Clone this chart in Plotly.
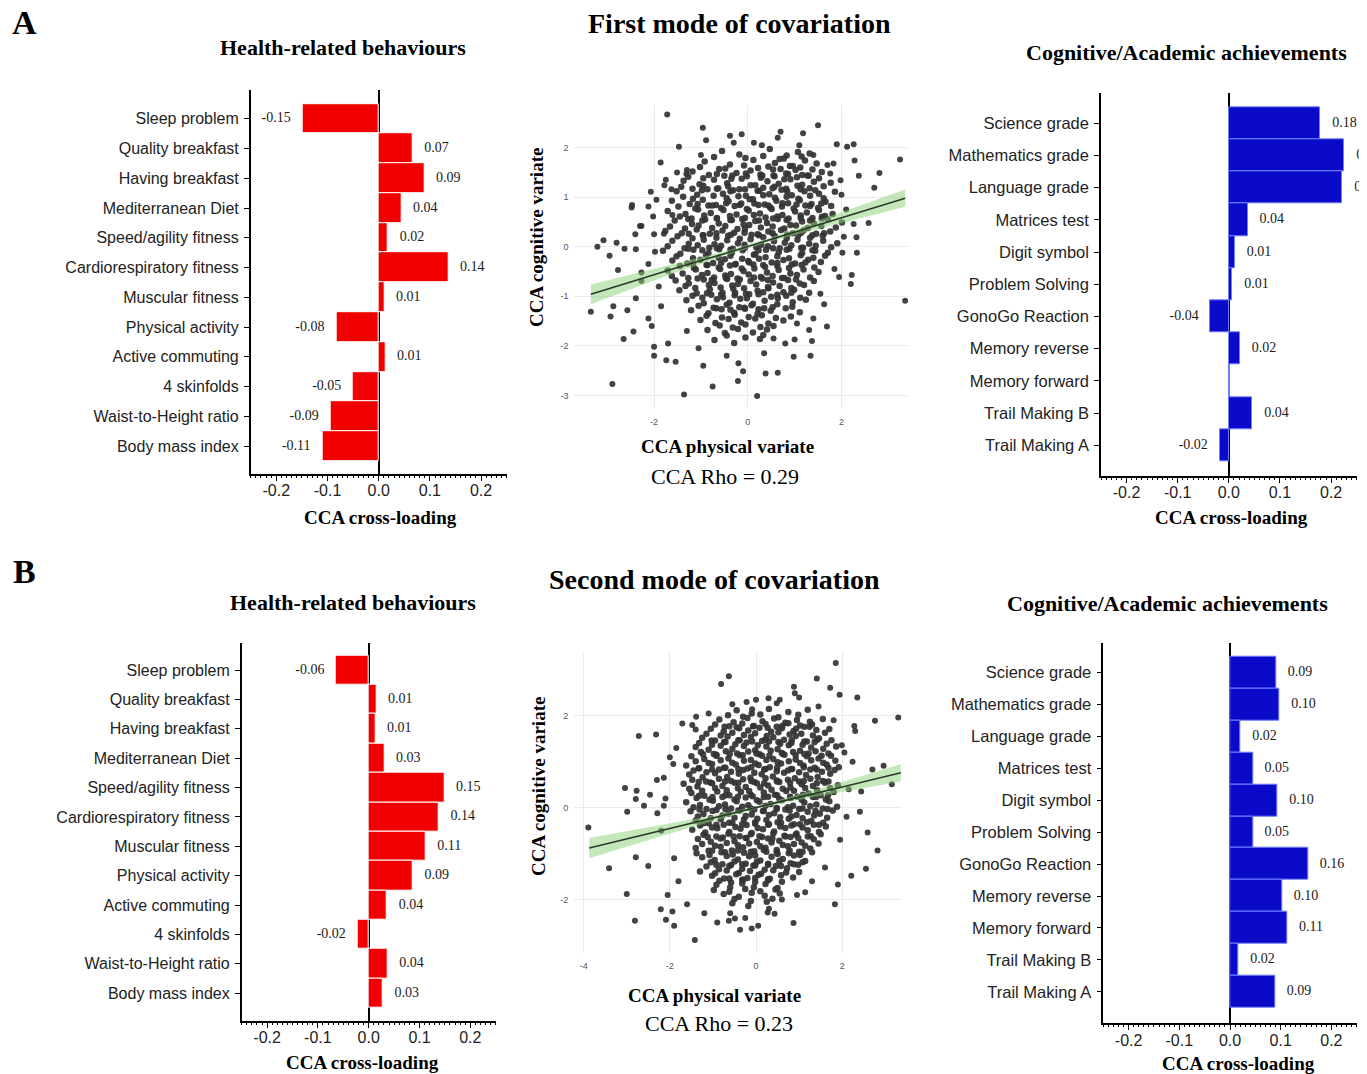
import plotly.graph_objects as go

W, H = 1367, 1074          # reference picture size
PAD = 8                    # browser body margin
WF, HF = W - PAD, H - PAD  # figure size
SERIF = "Liberation Serif"
SANS = "Liberation Sans"

# ---------------- bar data ----------------
health_labels = ["Sleep problem", "Quality breakfast", "Having breakfast", "Mediterranean Diet",
                 "Speed/agility fitness", "Cardiorespiratory fitness", "Muscular fitness",
                 "Physical activity", "Active commuting", "4 skinfolds", "Waist-to-Height ratio",
                 "Body mass index"]
health_a_values = [-0.149, 0.066, 0.089, 0.044, 0.018, 0.136, 0.011, -0.083, 0.013, -0.050, -0.094, -0.110]
health_a_text = ["-0.15", "0.07", "0.09", "0.04", "0.02", "0.14", "0.01", "-0.08", "0.01", "-0.05", "-0.09", "-0.11"]
health_b_values = [-0.064, 0.015, 0.013, 0.031, 0.149, 0.138, 0.112, 0.087, 0.036, -0.022, 0.037, 0.028]
health_b_text = ["-0.06", "0.01", "0.01", "0.03", "0.15", "0.14", "0.11", "0.09", "0.04", "-0.02", "0.04", "0.03"]

cog_labels = ["Science grade", "Mathematics grade", "Language grade", "Matrices test", "Digit symbol",
              "Problem Solving", "GonoGo Reaction", "Memory reverse", "Memory forward",
              "Trail Making B", "Trail Making A"]
cog_a_values = [0.179, 0.226, 0.222, 0.037, 0.012, 0.007, -0.036, 0.022, 0.002, 0.046, -0.018]
cog_a_text = ["0.18", "0.23", "0.22", "0.04", "0.01", "0.01", "-0.04", "0.02", "", "0.04", "-0.02"]
cog_b_values = [0.091, 0.098, 0.021, 0.045, 0.094, 0.045, 0.154, 0.103, 0.113, 0.017, 0.089]
cog_b_text = ["0.09", "0.10", "0.02", "0.05", "0.10", "0.05", "0.16", "0.10", "0.11", "0.02", "0.09"]

bar_ticks = [-0.2, -0.1, 0.0, 0.1, 0.2]
bar_tick_text = ["-0.2", "-0.1", "0.0", "0.1", "0.2"]

# ---------------- scatter data ----------------
scatter_a_outer = [
    (-1.72, 2.67), (-0.96, 2.40), (-0.89, 2.15), (-1.47, 2.02), (-1.86, 1.70), (-0.38, 2.24), (-0.13, 2.27),
    (0.13, 2.10), (0.64, 2.20), (0.70, 2.32), (1.18, 2.29), (1.50, 2.45), (1.90, 2.07), (2.26, 2.07),
    (2.12, 2.02), (2.28, 1.74), (3.25, 1.76), (2.81, 1.49), (2.70, 1.19), (2.37, 1.43), (2.58, 0.48),
    (2.26, 0.46), (2.32, 0.19), (2.33, -0.12), (2.02, -0.12), (2.22, -0.57), (2.20, -0.75), (1.95, -0.61),
    (3.36, -1.09), (1.63, -1.16), (1.69, -1.61), (1.31, -1.68), (1.34, -2.20), (0.98, -2.22), (1.37, -1.90),
    (1.00, -1.87), (0.64, -2.54), (0.38, -2.56), (0.20, -3.01), (-0.21, -2.71), (-0.10, -2.51), (-0.75, -2.82),
    (-1.36, -2.98), (-1.54, -2.32), (-1.74, -2.29), (-2.00, -2.20), (-2.00, -2.02), (-2.65, -1.86),
    (-2.44, -1.71), (-2.89, -2.77), (-2.93, -1.41), (-3.35, -1.31), (-2.87, -1.20), (-2.57, -1.28),
    (-2.39, -1.04), (-2.12, -1.45), (-2.77, -0.47), (-2.95, -0.18), (-3.21, 0.00), (-3.08, 0.13),
    (-2.80, 0.08), (-2.63, -0.04), (-2.39, -0.05), (-2.40, 0.25), (-2.47, 0.84), (-2.48, 0.79),
    (-2.12, 0.81), (-2.07, 1.11), (-1.78, 1.24), (-1.63, 1.16), (-1.51, 1.50), (-1.31, 1.47), (-2.02, 0.61),
    (-2.27, 0.42), (-2.27, -0.52), (-2.27, -0.69), (-1.98, -0.10), (-1.61, 0.64), (-1.79, 0.26),
    (1.76, 1.48), (1.83, 1.68), (1.98, 1.34), (1.58, 0.61),
    (-2.3, 0.42), (-2.12, -0.35), (-1.95, 0.95), (-1.9, -0.8), (-1.85, -1.2), (-2.05, -1.6), (-1.7, -1.95),
    (-1.3, -1.7), (-1.05, -2.05), (-0.95, -2.4), (-0.45, -2.2), (-0.2, -2.35), (0.35, -2.15), (0.55, -1.85),
    (0.8, -1.95), (1.05, -1.55), (1.4, -1.45), (1.55, -0.95), (1.85, -0.45), (2.05, 0.2), (2.1, 0.75),
    (2.0, 1.05), (1.7, 1.65), (1.4, 1.85), (1.1, 2.05), (0.3, 2.05), (-0.3, 2.1), (-1.0, 1.85), (-1.3, 1.55),
    (-1.75, 1.35), (-2.0, 0.25),
]
scatter_a_core = [
    (-0.55, 1.93), (-0.18, 1.86), (0.47, 1.97), (0.83, 1.84), (1.07, 1.91), (1.32, 1.88),
    (-0.92, 1.72), (-0.38, 1.66), (0.12, 1.75), (0.58, 1.69), (0.77, 1.78), (0.96, 1.63), (1.22, 1.74), (1.47, 1.68),
    (-1.18, 1.52), (-0.83, 1.45), (-0.61, 1.57), (-0.24, 1.49), (0.06, 1.54), (0.31, 1.43), (0.54, 1.56),
    (0.82, 1.48), (1.02, 1.55), (1.27, 1.44), (1.58, 1.51),
    (-1.37, 1.33), (-1.03, 1.26), (-0.72, 1.35), (-0.44, 1.28), (-0.13, 1.37), (0.16, 1.24), (0.42, 1.32),
    (0.66, 1.27), (0.91, 1.36), (1.16, 1.25), (1.41, 1.31), (1.77, 1.29),
    (-1.52, 1.12), (-1.08, 1.05), (-0.86, 1.16), (-0.53, 1.07), (-0.31, 1.14), (-0.04, 1.03), (0.21, 1.13),
    (0.46, 1.06), (0.72, 1.15), (0.94, 1.04), (1.21, 1.12), (1.52, 1.07), (1.86, 1.11),
    (-1.62, 0.93), (-1.24, 0.86), (-0.96, 0.95), (-0.68, 0.84), (-0.41, 0.92), (-0.14, 0.87), (0.11, 0.96),
    (0.36, 0.85), (0.61, 0.93), (0.86, 0.88), (1.11, 0.94), (1.36, 0.86), (1.66, 0.91),
    (-1.71, 0.72), (-1.33, 0.66), (-1.06, 0.75), (-0.79, 0.68), (-0.52, 0.74), (-0.24, 0.65), (0.02, 0.73),
    (0.26, 0.67), (0.51, 0.76), (0.74, 0.64), (1.01, 0.71), (1.26, 0.69), (1.52, 0.74), (1.81, 0.66),
    (-1.56, 0.53), (-1.19, 0.46), (-0.91, 0.55), (-0.62, 0.47), (-0.34, 0.54), (-0.09, 0.45), (0.16, 0.52),
    (0.41, 0.48), (0.64, 0.56), (0.91, 0.44), (1.16, 0.51), (1.41, 0.47), (1.71, 0.55), (2.01, 0.49),
    (-1.76, 0.32), (-1.41, 0.27), (-1.09, 0.35), (-0.81, 0.26), (-0.54, 0.33), (-0.29, 0.28), (-0.06, 0.36),
    (0.21, 0.25), (0.44, 0.31), (0.71, 0.34), (0.96, 0.27), (1.19, 0.33), (1.46, 0.26), (1.76, 0.31),
    (-1.61, 0.12), (-1.26, 0.06), (-0.94, 0.14), (-0.71, 0.05), (-0.44, 0.13), (-0.21, 0.07), (0.06, 0.15),
    (0.29, 0.04), (0.56, 0.11), (0.79, 0.08), (1.06, 0.14), (1.31, 0.06), (1.61, 0.12), (1.91, 0.07),
    (-1.81, -0.08), (-1.44, -0.14), (-1.16, -0.06), (-0.84, -0.13), (-0.61, -0.05), (-0.34, -0.12),
    (-0.11, -0.07), (0.16, -0.15), (0.39, -0.06), (0.66, -0.11), (0.89, -0.04), (1.16, -0.13), (1.44, -0.08),
    (1.71, -0.12),
    (-1.61, -0.28), (-1.29, -0.34), (-1.01, -0.26), (-0.74, -0.33), (-0.49, -0.25), (-0.26, -0.35),
    (0.01, -0.29), (0.24, -0.24), (0.51, -0.32), (0.76, -0.27), (1.01, -0.34), (1.29, -0.26), (1.56, -0.31),
    (-1.71, -0.48), (-1.39, -0.54), (-1.11, -0.46), (-0.86, -0.53), (-0.59, -0.45), (-0.36, -0.55),
    (-0.09, -0.49), (0.14, -0.44), (0.41, -0.52), (0.66, -0.47), (0.91, -0.54), (1.19, -0.46), (1.51, -0.51),
    (-1.54, -0.68), (-1.26, -0.74), (-0.94, -0.66), (-0.71, -0.73), (-0.44, -0.65), (-0.21, -0.75),
    (0.06, -0.69), (0.31, -0.64), (0.54, -0.72), (0.86, -0.67), (1.11, -0.74), (1.41, -0.69),
    (-1.46, -0.88), (-1.09, -0.94), (-0.81, -0.86), (-0.54, -0.93), (-0.31, -0.85), (-0.04, -0.95),
    (0.21, -0.89), (0.44, -0.84), (0.76, -0.92), (0.99, -0.87), (1.31, -0.93),
    (-1.31, -1.08), (-0.94, -1.14), (-0.66, -1.06), (-0.39, -1.13), (-0.16, -1.05), (0.11, -1.15),
    (0.36, -1.09), (0.64, -1.04), (0.96, -1.12), (1.24, -1.07),
    (-1.21, -1.28), (-0.84, -1.34), (-0.56, -1.26), (-0.29, -1.33), (-0.06, -1.25), (0.21, -1.35),
    (0.49, -1.29), (0.81, -1.24), (1.11, -1.32),
    (-1.01, -1.48), (-0.69, -1.54), (-0.41, -1.46), (-0.14, -1.53), (0.16, -1.45), (0.44, -1.55), (0.76, -1.49),
    (-0.86, -1.68), (-0.49, -1.74), (-0.21, -1.66), (0.11, -1.73), (0.41, -1.67),
    (-0.71, -1.88), (-0.29, -1.94), (0.26, -1.86),
    (-0.72, 1.81), (-0.05, 1.79), (0.33, 1.83), (0.68, 1.77), (1.15, 1.82),
    (-1.02, 1.61), (-0.48, 1.58), (-0.08, 1.64), (0.22, 1.59), (0.44, 1.62), (0.70, 1.57), (0.90, 1.63),
    (1.12, 1.60), (1.38, 1.56),
    (-1.27, 1.41), (-0.95, 1.38), (-0.50, 1.43), (-0.35, 1.37), (-0.02, 1.42), (0.28, 1.39), (0.55, 1.44),
    (0.78, 1.36), (1.05, 1.40), (1.30, 1.43), (1.52, 1.38),
    (-1.42, 1.21), (-1.18, 1.17), (-0.95, 1.23), (-0.63, 1.18), (-0.42, 1.22), (-0.18, 1.16), (0.06, 1.24),
    (0.33, 1.19), (0.57, 1.21), (0.82, 1.17), (1.06, 1.23), (1.32, 1.18), (1.62, 1.22),
    (-1.38, 1.01), (-1.17, 0.97), (-0.73, 1.03), (-0.45, 0.98), (-0.20, 1.02), (0.04, 0.96), (0.33, 1.04),
    (0.58, 0.99), (0.83, 1.01), (1.08, 0.97), (1.33, 1.03), (1.62, 0.98),
    (-1.48, 0.81), (-1.12, 0.77), (-0.84, 0.83), (-0.57, 0.78), (-0.28, 0.82), (-0.02, 0.76), (0.23, 0.84),
    (0.48, 0.79), (0.73, 0.81), (0.98, 0.77), (1.23, 0.83), (1.50, 0.78), (1.78, 0.82),
    (-1.45, 0.61), (-1.20, 0.57), (-0.93, 0.63), (-0.66, 0.58), (-0.38, 0.62), (-0.12, 0.56), (0.13, 0.64),
    (0.38, 0.59), (0.63, 0.61), (0.87, 0.57), (1.13, 0.63), (1.38, 0.58), (1.65, 0.62),
    (-1.66, 0.41), (-1.34, 0.37), (-1.05, 0.43), (-0.76, 0.38), (-0.48, 0.42), (-0.22, 0.36), (0.03, 0.44),
    (0.28, 0.39), (0.53, 0.41), (0.78, 0.37), (1.03, 0.43), (1.28, 0.38), (1.57, 0.42), (1.88, 0.39),
    (-1.50, 0.21), (-1.18, 0.17), (-0.95, 0.23), (-0.67, 0.18), (-0.42, 0.22), (-0.17, 0.16), (0.08, 0.24),
    (0.33, 0.19), (0.58, 0.21), (0.83, 0.17), (1.08, 0.23), (1.33, 0.18), (1.60, 0.22),
    (-1.71, 0.01), (-1.35, -0.03), (-1.07, 0.03), (-0.82, -0.02), (-0.57, 0.02), (-0.32, -0.04), (-0.07, 0.04),
    (0.18, -0.01), (0.43, 0.01), (0.68, -0.03), (0.93, 0.03), (1.18, -0.02), (1.45, 0.02), (1.78, -0.01),
    (-1.52, -0.19), (-1.17, -0.23), (-0.89, -0.17), (-0.62, -0.22), (-0.37, -0.18), (-0.12, -0.24),
    (0.13, -0.16), (0.38, -0.21), (0.63, -0.19), (0.88, -0.23), (1.13, -0.17), (1.40, -0.22), (1.65, -0.18),
    (-1.45, -0.39), (-1.15, -0.43), (-0.88, -0.37), (-0.62, -0.42), (-0.38, -0.38), (-0.13, -0.44),
    (0.12, -0.36), (0.37, -0.41), (0.63, -0.39), (0.88, -0.43), (1.15, -0.37), (1.42, -0.42),
    (-1.62, -0.59), (-1.27, -0.63), (-0.98, -0.57), (-0.72, -0.62), (-0.48, -0.58), (-0.22, -0.64),
    (0.02, -0.56), (0.28, -0.61), (0.53, -0.59), (0.78, -0.63), (1.05, -0.57), (1.33, -0.62),
    (-1.33, -0.79), (-1.12, -0.83), (-0.83, -0.77), (-0.58, -0.82), (-0.33, -0.78), (-0.08, -0.84),
    (0.18, -0.76), (0.43, -0.81), (0.68, -0.79), (0.93, -0.83), (1.20, -0.77),
    (-1.18, -0.99), (-0.97, -1.03), (-0.78, -0.97), (-0.53, -1.02), (-0.28, -0.98), (-0.02, -1.04),
    (0.23, -0.96), (0.50, -1.01), (0.82, -0.99), (1.12, -1.03),
    (-1.05, -1.19), (-0.73, -1.23), (-0.45, -1.17), (-0.18, -1.22), (0.08, -1.18), (0.35, -1.24),
    (0.63, -1.16), (0.95, -1.21),
    (-0.88, -1.39), (-0.55, -1.43), (-0.28, -1.37), (0.02, -1.42), (0.30, -1.38), (0.60, -1.44), (0.92, -1.41),
    (-0.60, -1.59), (-0.32, -1.63), (-0.05, -1.57), (0.27, -1.62), (0.55, -1.60),
    (-0.45, -1.79), (-0.05, -1.83), (0.33, -1.78),
    # densest centre
    (-0.66, 1.47), (-0.33, 1.44), (-0.04, 1.48), (0.27, 1.46), (0.57, 1.42), (0.86, 1.47), (1.16, 1.45),
    (-0.98, 1.14), (-0.66, 1.17), (-0.37, 1.12), (-0.06, 1.16), (0.25, 1.13), (0.53, 1.18), (0.84, 1.12),
    (1.13, 1.16), (1.44, 1.14),
    (-1.07, 0.86), (-0.76, 0.83), (-0.46, 0.88), (-0.17, 0.84), (0.14, 0.87), (0.44, 0.83), (0.74, 0.88),
    (1.04, 0.85), (1.33, 0.82), (1.57, 0.87),
    (-1.27, 0.56), (-0.97, 0.53), (-0.66, 0.57), (-0.37, 0.54), (-0.06, 0.58), (0.24, 0.53), (0.54, 0.57),
    (0.83, 0.54), (1.13, 0.58), (1.33, 0.53), (1.58, 0.57),
    (-1.26, 0.26), (-0.96, 0.23), (-0.67, 0.27), (-0.36, 0.24), (-0.07, 0.28), (0.24, 0.23), (0.53, 0.27),
    (0.84, 0.24), (1.14, 0.28), (1.38, 0.23), (1.63, 0.27),
    (-1.27, -0.04), (-0.97, -0.07), (-0.66, -0.03), (-0.37, -0.06), (-0.06, -0.02), (0.23, -0.07),
    (0.54, -0.03), (0.83, -0.06), (1.14, -0.02), (1.38, -0.07),
    (-1.17, -0.34), (-0.86, -0.37), (-0.57, -0.33), (-0.27, -0.36), (0.03, -0.32), (0.33, -0.37),
    (0.63, -0.33), (0.94, -0.36), (1.23, -0.32),
    (-1.07, -0.64), (-0.77, -0.67), (-0.47, -0.63), (-0.17, -0.66), (0.13, -0.62), (0.43, -0.67),
    (0.73, -0.63), (1.03, -0.66),
    (-0.87, -0.94), (-0.57, -0.97), (-0.27, -0.93), (0.03, -0.96), (0.33, -0.92), (0.63, -0.97), (0.93, -0.93),
    (-0.67, -1.24), (-0.37, -1.27), (-0.07, -1.23), (0.23, -1.26), (0.53, -1.22),
]

scatter_b_outer = [
    (-3.89, -0.43), (-3.41, -1.32), (-3.00, -1.88), (-2.81, -2.46), (-3.04, 0.43), (-2.99, -0.09),
    (-2.77, 0.37), (-2.72, 1.56), (-2.79, 0.19), (-2.60, 0.04), (-2.46, 0.28), (-2.32, 1.59), (-2.14, 0.65),
    (-2.14, 0.04), (-2.29, -0.12), (-1.92, 0.95), (-2.50, -1.27), (-2.79, -1.08), (-2.21, -2.21),
    (-2.09, -2.44), (-1.90, -2.57), (-1.94, -2.26), (-1.42, -2.88), (-1.71, 1.83), (-1.48, 1.80),
    (-1.39, 1.98), (-0.81, 2.69), (-0.63, 2.86), (-0.22, 2.30), (-0.09, 2.14), (0.29, 2.38), (0.48, 2.27),
    (0.88, 2.63), (0.90, 2.49), (1.41, 2.81), (1.72, 2.61), (1.85, 3.15), (1.94, 2.46), (2.35, 2.40),
    (2.28, 1.78), (2.30, 1.67), (2.76, 1.89), (3.30, 1.96), (2.96, 0.91), (2.70, 0.83), (3.15, 0.51),
    (2.24, 1.00), (1.99, 1.36), (2.44, 0.35), (2.41, -0.09), (2.59, -0.54), (2.82, -0.93), (2.55, -1.33),
    (2.21, -1.48), (1.90, -1.67), (1.83, -2.10), (1.14, -1.84), (0.87, -2.51), (0.05, -2.57), (-0.10, -2.63),
    (-0.37, -2.66), (-0.63, -2.46), (-0.49, -2.41), (0.27, -2.28), (0.43, -2.31),
    (-2.3, 0.6), (-2.2, -0.5), (-2.0, 1.1), (-1.9, -1.1), (-1.8, -1.6), (-2.05, -1.9), (-1.6, -2.1),
    (-1.2, -2.3), (-0.9, -2.5), (-0.6, -2.3), (-0.25, -2.4), (0.3, -2.2), (0.6, -2.0), (0.95, -1.9),
    (1.3, -1.6), (1.6, -1.3), (1.95, -0.7), (2.1, -0.2), (2.15, 0.4), (2.05, 1.2), (1.8, 1.9), (1.45, 2.2),
    (1.0, 2.4), (0.55, 2.35), (0.0, 2.35), (-0.55, 2.25), (-1.1, 2.05), (-1.4, 1.7), (-1.85, 1.3), (-2.1, 0.2),
]
scatter_b_core = [
    (-0.45, 2.12), (-0.10, 2.05), (0.30, 2.15), (0.75, 2.08), (1.20, 2.13),
    (-0.85, 1.92), (-0.52, 1.86), (-0.20, 1.95), (0.15, 1.88), (0.42, 1.94), (0.68, 1.85), (0.95, 1.91),
    (1.25, 1.87), (1.55, 1.93),
    (-1.05, 1.72), (-0.75, 1.66), (-0.45, 1.75), (-0.18, 1.68), (0.08, 1.74), (0.35, 1.65), (0.60, 1.73),
    (0.87, 1.67), (1.12, 1.76), (1.40, 1.69), (1.70, 1.71),
    (-1.25, 1.52), (-0.95, 1.46), (-0.66, 1.55), (-0.38, 1.47), (-0.12, 1.54), (0.14, 1.45), (0.40, 1.53),
    (0.65, 1.48), (0.92, 1.56), (1.18, 1.44), (1.46, 1.51), (1.75, 1.47),
    (-1.40, 1.32), (-1.10, 1.26), (-0.82, 1.35), (-0.55, 1.28), (-0.28, 1.34), (-0.02, 1.25), (0.24, 1.33),
    (0.50, 1.27), (0.76, 1.36), (1.02, 1.24), (1.28, 1.31), (1.56, 1.28), (1.86, 1.33),
    (-1.50, 1.12), (-1.20, 1.06), (-0.92, 1.15), (-0.64, 1.07), (-0.38, 1.14), (-0.12, 1.04), (0.14, 1.13),
    (0.40, 1.06), (0.66, 1.15), (0.92, 1.05), (1.18, 1.12), (1.45, 1.07), (1.74, 1.13),
    (-1.62, 0.92), (-1.32, 0.86), (-1.02, 0.95), (-0.74, 0.87), (-0.47, 0.94), (-0.20, 0.85), (0.06, 0.93),
    (0.32, 0.88), (0.58, 0.96), (0.84, 0.84), (1.10, 0.92), (1.36, 0.87), (1.64, 0.94), (1.92, 0.88),
    (-1.55, 0.72), (-1.24, 0.66), (-0.95, 0.75), (-0.67, 0.67), (-0.40, 0.74), (-0.13, 0.65), (0.13, 0.73),
    (0.39, 0.68), (0.65, 0.76), (0.90, 0.64), (1.16, 0.71), (1.43, 0.67), (1.72, 0.74),
    (-1.68, 0.52), (-1.36, 0.46), (-1.06, 0.55), (-0.78, 0.47), (-0.50, 0.54), (-0.24, 0.45), (0.02, 0.53),
    (0.28, 0.48), (0.54, 0.56), (0.80, 0.44), (1.06, 0.51), (1.32, 0.47), (1.60, 0.54), (1.90, 0.49),
    (-1.50, 0.32), (-1.20, 0.26), (-0.90, 0.35), (-0.62, 0.27), (-0.35, 0.34), (-0.08, 0.25), (0.18, 0.33),
    (0.44, 0.28), (0.70, 0.36), (0.96, 0.24), (1.22, 0.31), (1.50, 0.27), (1.80, 0.34),
    (-1.62, 0.12), (-1.30, 0.06), (-1.00, 0.15), (-0.72, 0.07), (-0.45, 0.14), (-0.18, 0.05), (0.08, 0.13),
    (0.34, 0.08), (0.60, 0.16), (0.86, 0.04), (1.12, 0.11), (1.40, 0.07), (1.70, 0.14),
    (-1.52, -0.08), (-1.22, -0.14), (-0.92, -0.05), (-0.64, -0.13), (-0.37, -0.06), (-0.10, -0.15),
    (0.16, -0.07), (0.42, -0.12), (0.68, -0.04), (0.94, -0.16), (1.20, -0.09), (1.48, -0.13), (1.78, -0.06),
    (-1.40, -0.28), (-1.10, -0.34), (-0.82, -0.25), (-0.55, -0.33), (-0.28, -0.26), (-0.02, -0.35),
    (0.24, -0.27), (0.50, -0.32), (0.76, -0.24), (1.02, -0.36), (1.28, -0.29), (1.56, -0.33),
    (-1.48, -0.48), (-1.18, -0.54), (-0.90, -0.45), (-0.62, -0.53), (-0.36, -0.46), (-0.10, -0.55),
    (0.16, -0.47), (0.42, -0.52), (0.68, -0.44), (0.94, -0.56), (1.20, -0.49), (1.46, -0.53),
    (-1.35, -0.68), (-1.05, -0.74), (-0.77, -0.65), (-0.50, -0.73), (-0.24, -0.66), (0.02, -0.75),
    (0.28, -0.67), (0.54, -0.72), (0.80, -0.64), (1.06, -0.76), (1.34, -0.69),
    (-1.40, -0.88), (-1.10, -0.94), (-0.82, -0.85), (-0.56, -0.93), (-0.30, -0.86), (-0.04, -0.95),
    (0.22, -0.87), (0.48, -0.92), (0.74, -0.84), (1.00, -0.96), (1.26, -0.89),
    (-1.25, -1.08), (-0.96, -1.14), (-0.68, -1.05), (-0.42, -1.13), (-0.16, -1.06), (0.10, -1.15),
    (0.36, -1.07), (0.62, -1.12), (0.88, -1.04), (1.14, -1.16),
    (-1.15, -1.28), (-0.86, -1.34), (-0.58, -1.25), (-0.32, -1.33), (-0.06, -1.26), (0.20, -1.35),
    (0.46, -1.27), (0.72, -1.32), (0.98, -1.24),
    (-1.02, -1.48), (-0.74, -1.54), (-0.46, -1.45), (-0.20, -1.53), (0.06, -1.46), (0.32, -1.55),
    (0.58, -1.47), (0.86, -1.52),
    (-0.92, -1.68), (-0.60, -1.74), (-0.32, -1.65), (-0.05, -1.73), (0.22, -1.66), (0.50, -1.75),
    (-0.75, -1.88), (-0.40, -1.94), (-0.10, -1.85), (0.20, -1.92), (0.55, -1.87),
    (-0.55, -2.08), (-0.18, -2.14), (0.25, -2.05),
    (-0.65, 2.01), (-0.30, 1.98), (0.10, 2.03), (0.52, 1.97), (0.98, 2.02),
    (-0.95, 1.81), (-0.62, 1.77), (-0.32, 1.83), (-0.05, 1.78), (0.22, 1.82), (0.48, 1.76), (0.75, 1.84),
    (1.02, 1.79), (1.30, 1.81),
    (-1.15, 1.61), (-0.82, 1.57), (-0.55, 1.63), (-0.28, 1.58), (-0.02, 1.62), (0.25, 1.56), (0.52, 1.64),
    (0.78, 1.59), (1.05, 1.61), (1.32, 1.57), (1.60, 1.63),
    (-1.32, 1.41), (-1.02, 1.37), (-0.74, 1.43), (-0.48, 1.38), (-0.22, 1.42), (0.04, 1.36), (0.30, 1.44),
    (0.56, 1.39), (0.82, 1.41), (1.08, 1.37), (1.36, 1.43), (1.64, 1.39),
    (-1.28, 1.21), (-0.98, 1.17), (-0.70, 1.23), (-0.44, 1.18), (-0.18, 1.22), (0.08, 1.16), (0.34, 1.24),
    (0.60, 1.19), (0.86, 1.21), (1.12, 1.17), (1.38, 1.23), (1.68, 1.18),
    (-1.40, 1.01), (-1.10, 0.97), (-0.82, 1.03), (-0.55, 0.98), (-0.28, 1.02), (-0.02, 0.96), (0.24, 1.04),
    (0.50, 0.99), (0.76, 1.01), (1.02, 0.97), (1.28, 1.03), (1.56, 0.98), (1.84, 1.02),
    (-1.45, 0.81), (-1.15, 0.77), (-0.86, 0.83), (-0.58, 0.78), (-0.30, 0.82), (-0.04, 0.76), (0.22, 0.84),
    (0.48, 0.79), (0.74, 0.81), (1.00, 0.77), (1.26, 0.83), (1.53, 0.78), (1.82, 0.82),
    (-1.48, 0.61), (-1.16, 0.57), (-0.86, 0.63), (-0.58, 0.58), (-0.30, 0.62), (-0.04, 0.56), (0.22, 0.64),
    (0.48, 0.59), (0.74, 0.61), (1.00, 0.57), (1.26, 0.63), (1.55, 0.58),
    (-1.55, 0.41), (-1.25, 0.37), (-0.95, 0.43), (-0.68, 0.38), (-0.42, 0.42), (-0.16, 0.36), (0.10, 0.44),
    (0.36, 0.39), (0.62, 0.41), (0.88, 0.37), (1.14, 0.43), (1.42, 0.38), (1.72, 0.42),
    (-1.38, 0.21), (-1.08, 0.17), (-0.78, 0.23), (-0.50, 0.18), (-0.24, 0.22), (0.02, 0.16), (0.28, 0.24),
    (0.54, 0.19), (0.80, 0.21), (1.06, 0.17), (1.32, 0.23), (1.62, 0.18),
    (-1.45, 0.01), (-1.15, -0.03), (-0.86, 0.03), (-0.58, -0.02), (-0.32, 0.02), (-0.04, -0.04), (0.22, 0.04),
    (0.48, -0.01), (0.74, 0.01), (1.00, -0.03), (1.26, 0.03), (1.55, -0.02), (1.88, 0.02),
    (-1.35, -0.19), (-1.05, -0.23), (-0.78, -0.17), (-0.50, -0.22), (-0.24, -0.18), (0.03, -0.24),
    (0.30, -0.16), (0.56, -0.21), (0.82, -0.19), (1.08, -0.23), (1.35, -0.17), (1.65, -0.22),
    (-1.30, -0.39), (-1.02, -0.43), (-0.75, -0.37), (-0.48, -0.42), (-0.22, -0.38), (0.04, -0.44),
    (0.30, -0.36), (0.56, -0.41), (0.82, -0.39), (1.08, -0.43), (1.34, -0.37), (1.62, -0.41),
    (-1.22, -0.59), (-0.92, -0.63), (-0.64, -0.57), (-0.38, -0.62), (-0.12, -0.58), (0.14, -0.64),
    (0.40, -0.56), (0.66, -0.61), (0.92, -0.59), (1.20, -0.63), (1.50, -0.58),
    (-1.25, -0.79), (-0.95, -0.83), (-0.68, -0.77), (-0.42, -0.82), (-0.16, -0.78), (0.10, -0.84),
    (0.36, -0.76), (0.62, -0.81), (0.88, -0.79), (1.14, -0.83), (1.45, -0.78),
    (-1.38, -0.99), (-1.08, -1.03), (-0.80, -0.97), (-0.54, -1.02), (-0.28, -0.98), (-0.02, -1.04),
    (0.24, -0.96), (0.50, -1.01), (0.76, -0.99), (1.02, -1.03), (1.30, -0.97),
    (-1.05, -1.19), (-0.78, -1.23), (-0.50, -1.17), (-0.24, -1.22), (0.02, -1.18), (0.28, -1.24),
    (0.54, -1.16), (0.80, -1.21), (1.08, -1.19),
    (-1.30, -1.39), (-0.95, -1.43), (-0.68, -1.37), (-0.40, -1.42), (-0.14, -1.38), (0.12, -1.44),
    (0.40, -1.36), (0.70, -1.41), (1.00, -1.40),
    (-0.85, -1.59), (-0.58, -1.63), (-0.30, -1.57), (-0.02, -1.62), (0.28, -1.58), (0.60, -1.61),
    (-0.98, -1.79), (-0.62, -1.83), (-0.25, -1.77), (0.10, -1.82), (0.45, -1.78),
    (-0.50, -1.99), (-0.12, -2.03), (0.38, -1.98),
    # densest centre
    (-0.73, 1.76), (-0.39, 1.73), (-0.07, 1.77), (0.27, 1.74), (0.61, 1.78), (0.93, 1.72), (1.24, 1.76),
    (-1.03, 1.46), (-0.71, 1.43), (-0.41, 1.47), (-0.09, 1.44), (0.21, 1.48), (0.52, 1.43), (0.83, 1.47),
    (1.12, 1.44), (1.42, 1.48),
    (-1.23, 1.16), (-0.92, 1.13), (-0.61, 1.17), (-0.31, 1.14), (0.01, 1.18), (0.31, 1.13), (0.62, 1.17),
    (0.92, 1.14), (1.22, 1.18), (1.52, 1.13),
    (-1.33, 0.86), (-1.02, 0.83), (-0.71, 0.87), (-0.41, 0.84), (-0.11, 0.88), (0.19, 0.83), (0.49, 0.87),
    (0.81, 0.84), (1.11, 0.88), (1.41, 0.83), (1.68, 0.87),
    (-1.33, 0.56), (-1.02, 0.53), (-0.72, 0.57), (-0.41, 0.54), (-0.11, 0.58), (0.19, 0.53), (0.49, 0.57),
    (0.79, 0.54), (1.11, 0.58), (1.41, 0.53), (1.68, 0.57),
    (-1.32, 0.26), (-1.01, 0.23), (-0.71, 0.27), (-0.42, 0.24), (-0.12, 0.28), (0.18, 0.23), (0.49, 0.27),
    (0.79, 0.24), (1.09, 0.28), (1.39, 0.23), (1.67, 0.27),
    (-1.31, -0.04), (-1.01, -0.07), (-0.71, -0.03), (-0.41, -0.06), (-0.12, -0.02), (0.18, -0.07),
    (0.48, -0.03), (0.78, -0.06), (1.08, -0.02), (1.38, -0.07), (1.66, -0.03),
    (-1.22, -0.34), (-0.92, -0.37), (-0.62, -0.33), (-0.32, -0.36), (-0.02, -0.32), (0.28, -0.37),
    (0.58, -0.33), (0.88, -0.36), (1.18, -0.32), (1.46, -0.37),
    (-1.12, -0.64), (-0.82, -0.67), (-0.52, -0.63), (-0.22, -0.66), (0.08, -0.62), (0.38, -0.67),
    (0.68, -0.63), (0.98, -0.66), (1.27, -0.62),
    (-1.02, -0.94), (-0.72, -0.97), (-0.42, -0.93), (-0.12, -0.96), (0.18, -0.92), (0.48, -0.97),
    (0.78, -0.93), (1.08, -0.96),
    (-0.92, -1.24), (-0.62, -1.27), (-0.32, -1.23), (-0.02, -1.26), (0.28, -1.22), (0.58, -1.27), (0.88, -1.23),
    (-0.62, -1.54), (-0.32, -1.57), (-0.02, -1.53), (0.28, -1.56),
]

# fitted line and confidence band
fit_a_x = [-3.35, -2.5, -1.5, -0.5, 0.5, 1.5, 2.5, 3.36]
fit_a_y = [-0.96, -0.71, -0.42, -0.14, 0.15, 0.44, 0.73, 0.98]
fit_a_hw = [0.20, 0.15, 0.09, 0.045, 0.04, 0.085, 0.135, 0.175]
fit_b_x = [-3.87, -3.0, -2.0, -1.0, 0.0, 1.0, 2.0, 3.36]
fit_b_y = [-0.88, -0.68, -0.45, -0.23, 0.0, 0.23, 0.45, 0.76]
fit_b_hw = [0.22, 0.17, 0.115, 0.06, 0.03, 0.06, 0.11, 0.19]

scatter_a_xticks = [-2, 0, 2]
scatter_a_yticks = [-3, -2, -1, 0, 1, 2]
scatter_b_xticks = [-4, -2, 0, 2]
scatter_b_yticks = [-2, 0, 2]

# ---------------- helpers (reference pixel coords -> paper coords) ----------------
def dx(a, b):
    return [(a - PAD) / WF, (b - PAD) / WF]

def dy(top, bottom):
    return [1 - (bottom - PAD) / HF, 1 - (top - PAD) / HF]

fig = go.Figure()
annotations = []

def ann(text, x, y, size, family=SERIF, bold=False, angle=0, color="black"):
    t = "<b>%s</b>" % text if bold else text
    annotations.append(dict(text=t, x=(x - PAD) / WF, y=1 - (y - PAD) / HF, xref="paper", yref="paper",
                            showarrow=False, xanchor="center", yanchor="middle",
                            textangle=angle, font=dict(family=family, size=size, color=color)))

OFF = 0.023

def bar_panel(idx, labels, values, texts, color, edge, xdom, ydom, yrange, label_size):
    xa = "x%d" % idx
    ya = "y%d" % idx
    fig.add_trace(go.Bar(y=labels, x=values, orientation="h", width=1.0,
                         marker=dict(color=color, line=dict(color=edge, width=1)),
                         xaxis=xa, yaxis=ya, showlegend=False, hoverinfo="skip"))
    pos = [v + OFF if v >= 0 else v - OFF for v in values]
    tpos = ["middle right" if v >= 0 else "middle left" for v in values]
    fig.add_trace(go.Scatter(y=labels, x=pos, mode="text", text=texts, textposition=tpos,
                             textfont=dict(family=SERIF, size=14, color="#1a1a1a"),
                             cliponaxis=False, xaxis=xa, yaxis=ya, showlegend=False, hoverinfo="skip"))
    fig.update_layout({
        "xaxis%d" % idx: dict(domain=xdom, anchor=ya, range=[-0.25, 0.25],
                              tickvals=bar_ticks, ticktext=bar_tick_text,
                              showline=True, linecolor="black", linewidth=1.5,
                              ticks="outside", ticklen=6, tickwidth=1.2, tickcolor="black",
                              ticklabelstandoff=-4,
                              minor=dict(dtick=0.01, tick0=0, ticks="outside", ticklen=3,
                                         tickwidth=1, tickcolor="black", showgrid=False),
                              showgrid=False, zeroline=True, zerolinecolor="black", zerolinewidth=1.5,
                              tickfont=dict(family=SANS, size=16, color="#222"), fixedrange=True),
        "yaxis%d" % idx: dict(domain=ydom, anchor=xa, type="category", categoryorder="array",
                              categoryarray=list(reversed(labels)), range=yrange,
                              showline=True, linecolor="black", linewidth=1.5,
                              ticks="outside", ticklen=5, tickwidth=1.2, tickcolor="black",
                              ticklabelstandoff=2,
                              showgrid=False, zeroline=False,
                              tickfont=dict(family=SANS, size=label_size, color="#222"), fixedrange=True),
    })

def scatter_panel(idx, outer, core, fx, fy, fhw, xdom, ydom, xrange, yrange, xticks, yticks):
    xa = "x%d" % idx
    ya = "y%d" % idx
    fig.add_trace(go.Scatter(x=[p[0] for p in core], y=[p[1] for p in core], mode="markers",
                             marker=dict(size=6.5, color="rgba(52,52,52,0.93)", line=dict(width=0)),
                             xaxis=xa, yaxis=ya, showlegend=False, hoverinfo="skip"))
    fig.add_trace(go.Scatter(x=[p[0] for p in outer], y=[p[1] for p in outer], mode="markers",
                             marker=dict(size=6, color="rgba(52,52,52,0.93)", line=dict(width=0)),
                             xaxis=xa, yaxis=ya, showlegend=False, hoverinfo="skip"))
    upper = [a + b for a, b in zip(fy, fhw)]
    lower = [a - b for a, b in zip(fy, fhw)]
    fig.add_trace(go.Scatter(x=fx + fx[::-1], y=upper + lower[::-1], mode="lines", fill="toself",
                             fillcolor="rgba(140,210,120,0.5)", line=dict(width=0),
                             xaxis=xa, yaxis=ya, showlegend=False, hoverinfo="skip"))
    fig.add_trace(go.Scatter(x=fx, y=fy, mode="lines", line=dict(color="#2b3b2b", width=1.6),
                             xaxis=xa, yaxis=ya, showlegend=False, hoverinfo="skip"))
    fig.update_layout({
        "xaxis%d" % idx: dict(domain=xdom, anchor=ya, range=xrange, tickvals=xticks,
                              ticktext=[str(t) for t in xticks], ticklabelstandoff=6,
                              showline=False, zeroline=False, showgrid=True, gridcolor="#ebebeb",
                              gridwidth=1, ticks="", tickfont=dict(family=SANS, size=9, color="#555"),
                              fixedrange=True),
        "yaxis%d" % idx: dict(domain=ydom, anchor=xa, range=yrange, tickvals=yticks,
                              ticktext=[str(t) for t in yticks], ticklabelstandoff=4,
                              showline=False, zeroline=False, showgrid=True, gridcolor="#ebebeb",
                              gridwidth=1, ticks="", tickfont=dict(family=SANS, size=9, color="#555"),
                              fixedrange=True),
    })

RED = "#f00000"
BLUE = "#0a0ac8"

# ---- Row A ----
bar_panel(1, health_labels, health_a_values, health_a_text, RED, "#ffffff",
          dx(250.7, 506.7), dy(90.2, 473.5), [-0.92, 11.96], 16)
scatter_panel(2, scatter_a_outer, scatter_a_core, fit_a_x, fit_a_y, fit_a_hw,
              dx(573.5, 908), dy(105, 409.3), [-3.72, 3.42], [-3.28, 2.86], scatter_a_xticks, scatter_a_yticks)
bar_panel(3, cog_labels, cog_a_values, cog_a_text, BLUE, "#6f80ff",
          dx(1101, 1356.7), dy(93.3, 475.5), [-0.94, 10.93], 16.5)

# ---- Row B ----
bar_panel(4, health_labels, health_b_values, health_b_text, RED, "#ffffff",
          dx(241.7, 495.7), dy(642.7, 1020.5), [-0.93, 11.93], 16)
scatter_panel(5, scatter_b_outer, scatter_b_core, fit_b_x, fit_b_y, fit_b_hw,
              dx(573.3, 901.7), dy(651, 953.3), [-4.24, 3.38], [-3.17, 3.41], scatter_b_xticks, scatter_b_yticks)
bar_panel(6, cog_labels, cog_b_values, cog_b_text, BLUE, "#6f80ff",
          dx(1103.3, 1356.7), dy(642.7, 1022.7), [-0.97, 10.94], 16.5)

# ---- text ----
ann("A", 24, 22, 34, bold=True)
ann("B", 24, 571, 34, bold=True)
ann("First mode of covariation", 739, 24, 28, bold=True)
ann("Second mode of covariation", 715, 579, 28, bold=True)
ann("Health-related behaviours", 343, 48, 22, bold=True)
ann("Cognitive/Academic achievements", 1186, 52, 22, bold=True)
ann("Health-related behaviours", 353, 602, 22, bold=True)
ann("Cognitive/Academic achievements", 1167, 603, 22, bold=True)
ann("CCA cross-loading", 380, 517, 19, bold=True)
ann("CCA cross-loading", 1231, 518, 19, bold=True)
ann("CCA cross-loading", 362, 1062, 19, bold=True)
ann("CCA cross-loading", 1238, 1063, 19, bold=True)
ann("CCA cognitive variate", 537, 238, 19, bold=True, angle=-90)
ann("CCA physical variate", 727, 446, 19, bold=True)
ann("CCA Rho = 0.29", 725, 477, 22)
ann("CCA cognitive variate", 538, 787, 19, bold=True, angle=-90)
ann("CCA physical variate", 715, 995, 19, bold=True)
ann("CCA Rho = 0.23", 719, 1023, 22)

fig.update_layout(width=WF, height=HF, margin=dict(l=0, r=0, t=0, b=0),
                  paper_bgcolor="white", plot_bgcolor="white", annotations=annotations,
                  hovermode=False, bargap=0, showlegend=False)

fig.write_html("out.html", config={"displayModeBar": False})
